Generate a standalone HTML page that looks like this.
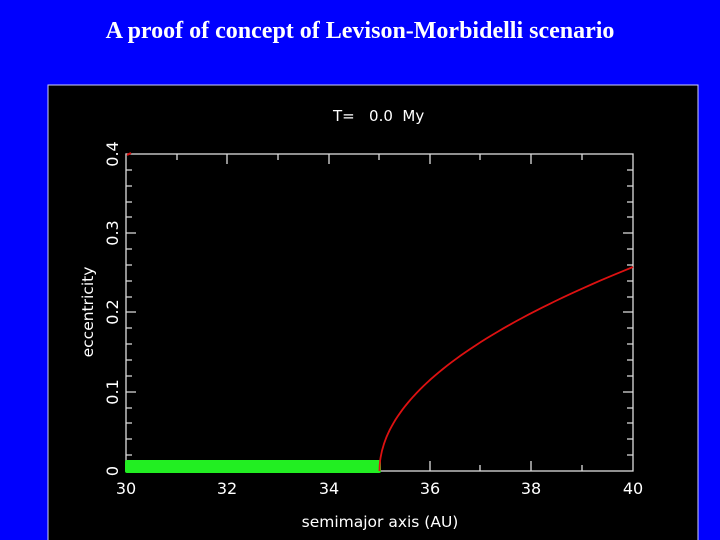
<!DOCTYPE html>
<html><head><meta charset="utf-8"><style>
html,body{margin:0;padding:0;background:#0000fe;width:720px;height:540px;overflow:hidden}
</style></head><body>
<svg width="720" height="540" xmlns="http://www.w3.org/2000/svg">
<rect width="720" height="540" fill="#0000fe"/>
<text x="360" y="38" text-anchor="middle" font-family="Liberation Serif,serif" font-weight="bold" font-size="24" fill="#fff">A proof of concept of Levison-Morbidelli scenario</text>
<rect x="48" y="85" width="650" height="460" fill="#000" stroke="#d0d0ff" stroke-width="1"/>
<g font-family="DejaVu Sans,Liberation Sans,sans-serif" fill="#fff">
<text x="333" y="121" font-size="15" style="white-space:pre" xml:space="preserve">T=   0.0  My</text>
<text x="380" y="527" text-anchor="middle" font-size="15.5">semimajor axis (AU)</text>
<text transform="translate(93,312) rotate(-90)" text-anchor="middle" font-size="15.5">eccentricity</text>
<g font-size="16" text-anchor="middle">
<text x="126" y="494">30</text><text x="227" y="494">32</text><text x="329" y="494">34</text>
<text x="430" y="494">36</text><text x="531" y="494">38</text><text x="633" y="494">40</text>
</g>
<g font-size="16" text-anchor="middle">
<text transform="translate(118,471) rotate(-90)">0</text>
<text transform="translate(118,392) rotate(-90)">0.1</text>
<text transform="translate(118,312) rotate(-90)">0.2</text>
<text transform="translate(118,233) rotate(-90)">0.3</text>
<text transform="translate(118,154) rotate(-90)">0.4</text>
</g>
</g>
<g stroke="#ddd" stroke-width="1.3" fill="none">
<rect x="126" y="154" width="507" height="317"/>
<path d="M227,471v-10M329,471v-10M430,471v-10M531,471v-10M177,471v-6M278,471v-6M379,471v-6M480,471v-6M582,471v-6
M227,154v10M329,154v10M430,154v10M531,154v10M177,154v6M278,154v6M379,154v6M480,154v6M582,154v6
M126,392h10M126,312h10M126,233h10M633,392h-10M633,312h-10M633,233h-10
M126,455h6M126,439h6M126,423h6M126,408h6M126,376h6M126,360h6M126,344h6M126,328h6M126,297h6M126,281h6M126,265h6M126,249h6M126,217h6M126,202h6M126,186h6M126,170h6
M633,455h-6M633,439h-6M633,423h-6M633,408h-6M633,376h-6M633,360h-6M633,344h-6M633,328h-6M633,297h-6M633,281h-6M633,265h-6M633,249h-6M633,217h-6M633,202h-6M633,186h-6M633,170h-6"/>
</g>
<rect x="125" y="460" width="256" height="13" rx="2" fill="#22ee22"/>
<path d="M379.5,471 L379.6,460.8 L380.0,450.6 L380.8,440.4 L382.0,430.2 L383.5,420 L385.3,409.8 L387.5,399.6 L390.0,389.4 L392.9,379.2 L396.2,369 L399.8,358.8 L403.8,348.6 L408.1,338.4 L412.8,328.2 L417.8,318 L423.2,307.8 L429.0,297.6 L435.1,287.4 L441.6,277.2 L448.4,267 L455.6,256.8" fill="none" stroke="none"/>
<path id="c" fill="none" stroke="#dd1111" stroke-width="1.8" d=""/>
<script>
var d="";for(var i=0;i<=60;i++){var t=i/60;var a=35+5*t*t;var x=126+50.7*(a-30),y=471-204*t;d+=(i?"L":"M")+x.toFixed(1)+","+y.toFixed(1);}document.getElementById("c").setAttribute("d",d);
</script>
<path d="M127,155 l4,-2" stroke="#dd1111" stroke-width="2"/>
</svg>
</body></html>
